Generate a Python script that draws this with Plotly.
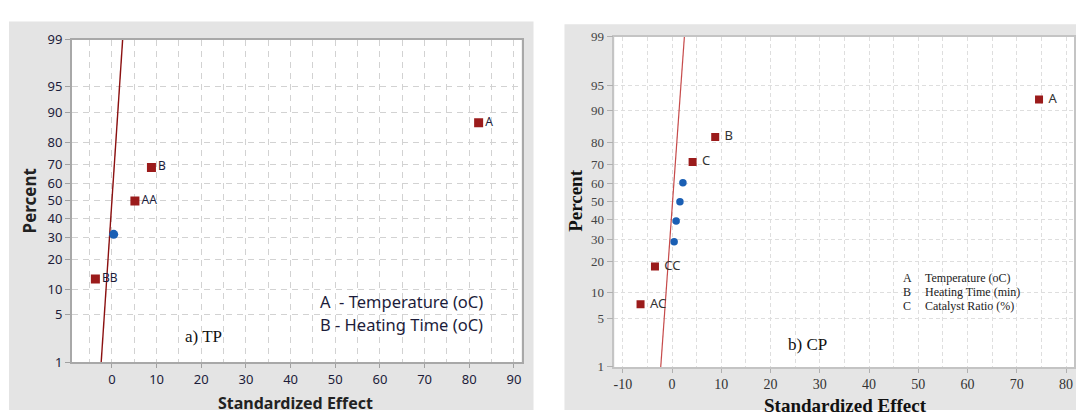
import plotly.graph_objects as go
from statistics import NormalDist

_nd = NormalDist()


def z(p):
    return _nd.inv_cdf(p / 100.0)


# ---------------- data ----------------
percent_ticks = [1, 5, 10, 20, 30, 40, 50, 60, 70, 80, 90, 95, 99]

# a) TP
tp_sig_labels = ["BB", "AA", "B", "A"]
tp_sig_effect = [-3.7, 5.15, 8.85, 82.1]
tp_sig_percent = [12.96, 50.0, 68.52, 87.04]
tp_ns_effect = [0.4]
tp_ns_percent = [31.48]
tp_line_effect = [-2.4, 2.4]
tp_line_percent = [1, 99]
tp_xticks = [0, 10, 20, 30, 40, 50, 60, 70, 80, 90]

# b) CP
cp_sig_labels = ["AC", "CC", "C", "B", "A"]
cp_sig_effect = [-6.4, -3.47, 4.17, 8.76, 74.5]
cp_sig_percent = [7.45, 18.09, 71.28, 81.91, 92.55]
cp_ns_effect = [0.42, 0.83, 1.6, 2.2]
cp_ns_percent = [28.72, 39.36, 50.0, 60.64]
cp_line_effect = [-2.3, 2.5]
cp_line_percent = [1, 99]
cp_xticks = [-10, 0, 10, 20, 30, 40, 50, 60, 70, 80]
cp_xtick_text = ["-10", "0", "10", "20", "30", "40", "50", "60", "70", "80"]

W, H = 1076, 419


def px_x(v):
    return v / W


def px_y(v):
    return 1 - v / H


SANS = "Noto Sans, Open Sans, DejaVu Sans, sans-serif"
SERIF = "Liberation Serif, Times New Roman, serif"
NAVY = "#1c1c3a"
RED = "#9b1b1b"
BLUE = "#1a5fb4"

fig = go.Figure()

# ---- TP panel ----
fig.add_trace(go.Scatter(
    x=tp_line_effect, y=[z(p) for p in tp_line_percent], mode="lines",
    line=dict(color="#8b1010", width=1.4), xaxis="x", yaxis="y",
    hoverinfo="skip", showlegend=False))
fig.add_trace(go.Scatter(
    x=tp_ns_effect, y=[z(p) for p in tp_ns_percent], mode="markers",
    marker=dict(symbol="circle", size=9, color=BLUE), xaxis="x", yaxis="y",
    showlegend=False))
fig.add_trace(go.Scatter(
    x=tp_sig_effect, y=[z(p) for p in tp_sig_percent], mode="markers+text",
    text=tp_sig_labels, textposition="middle right",
    textfont=dict(family=SANS, size=12, color=NAVY),
    marker=dict(symbol="square", size=9, color=RED), xaxis="x", yaxis="y",
    showlegend=False))

# ---- CP panel ----
fig.add_trace(go.Scatter(
    x=cp_line_effect, y=[z(p) for p in cp_line_percent], mode="lines",
    line=dict(color="#c64a4a", width=1.2), xaxis="x2", yaxis="y2",
    hoverinfo="skip", showlegend=False))
fig.add_trace(go.Scatter(
    x=cp_ns_effect, y=[z(p) for p in cp_ns_percent], mode="markers",
    marker=dict(symbol="circle", size=7.5, color=BLUE), xaxis="x2", yaxis="y2",
    showlegend=False))
fig.add_trace(go.Scatter(
    x=cp_sig_effect, y=[z(p) for p in cp_sig_percent], mode="markers+text",
    text=cp_sig_labels, textposition="middle right",
    texttemplate="\u00a0%{text}",
    textfont=dict(family=SANS, size=13, color="#333333"),
    marker=dict(symbol="square", size=8, color=RED), xaxis="x2", yaxis="y2",
    showlegend=False))

yr = [z(1), z(99)]
ytv = [z(p) for p in percent_ticks]
ytt = [str(p) for p in percent_ticks]

left_grid = dict(showgrid=True, gridcolor="#d2d2d2", gridwidth=1.4, griddash="6px,5px")
right_grid = dict(showgrid=True, gridcolor="#dedede", gridwidth=1, griddash="4px,3px")

fig.update_layout(
    width=W, height=H, margin=dict(l=0, r=0, t=0, b=0),
    paper_bgcolor="white", plot_bgcolor="white",
    xaxis=dict(
        domain=[px_x(71), px_x(521)], anchor="y", range=[-8.95, 91.7],
        tickvals=tp_xticks, ticks="outside", ticklen=4, tickcolor="#a0a0a0",
        tickfont=dict(family=SANS, size=13, color=NAVY),
        showline=True, mirror=True, linecolor="#a8a8a8", linewidth=2,
        zeroline=False, **left_grid,
        minor=dict(dtick=5, tick0=0, ticks="", **left_grid)),
    yaxis=dict(
        domain=[px_y(369), px_y(32)], anchor="x", range=yr,
        tickvals=ytv, ticktext=ytt, ticks="outside", ticklen=5, tickcolor="#a0a0a0",
        tickfont=dict(family=SANS, size=13, color=NAVY),
        showline=True, mirror=True, linecolor="#a8a8a8", linewidth=2,
        zeroline=False, **left_grid),
    xaxis2=dict(
        domain=[px_x(614), px_x(1074)], anchor="y2", range=[-11.7, 81.6],
        tickvals=cp_xticks, ticktext=cp_xtick_text, ticks="outside", ticklen=4,
        tickcolor="#b0b0b0",
        tickfont=dict(family=SERIF, size=14, color="#333333"),
        showline=True, mirror=True, linecolor="#c4c4c4", linewidth=1.5,
        zeroline=False, **right_grid,
        minor=dict(dtick=5, tick0=0, ticks="", **right_grid)),
    yaxis2=dict(
        domain=[px_y(374), px_y(29)], anchor="x2", range=yr,
        tickvals=ytv, ticktext=ytt, ticks="outside", ticklen=6, tickcolor="#b0b0b0",
        tickfont=dict(family=SERIF, size=13, color="#444444"),
        showline=True, mirror=True, linecolor="#c4c4c4", linewidth=1.5,
        zeroline=False, **right_grid),
)

# gray panel backgrounds
fig.add_shape(type="rect", xref="paper", yref="paper", layer="below",
              x0=px_x(8), x1=px_x(533), y0=px_y(419), y1=px_y(13),
              fillcolor="#e4e4e4", line=dict(width=0))
fig.add_shape(type="rect", xref="paper", yref="paper", layer="below",
              x0=px_x(564), x1=px_x(1076), y0=px_y(419), y1=px_y(16),
              fillcolor="#e5e5e5", line=dict(width=0))
# white plot areas (drawn below traces, above gray)
fig.add_shape(type="rect", xref="paper", yref="paper", layer="below",
              x0=px_x(71), x1=px_x(521), y0=px_y(369), y1=px_y(32),
              fillcolor="white", line=dict(width=0))
fig.add_shape(type="rect", xref="paper", yref="paper", layer="below",
              x0=px_x(614), x1=px_x(1074), y0=px_y(374), y1=px_y(29),
              fillcolor="white", line=dict(width=0))


def ann(text, x, y, font, angle=0, xanchor="center", align="center"):
    fig.add_annotation(text=text, xref="paper", yref="paper",
                       x=px_x(x), y=px_y(y), xanchor=xanchor, yanchor="middle",
                       showarrow=False, textangle=angle, font=font, align=align)


# TP titles
ann("<b>Percent</b>", 28, 200, dict(family=SANS, size=17, color="#222222"), angle=-90)
ann("<b>Standardized Effect</b>", 295, 412, dict(family=SANS, size=16, color="#222222"))
ann("A  - Temperature (oC)", 317, 306, dict(family=SANS, size=16.5, color=NAVY), xanchor="left")
ann("B - Heating Time (oC)", 317, 330, dict(family=SANS, size=16.5, color=NAVY), xanchor="left")
ann("a) TP", 203, 342, dict(family=SERIF, size=17, color="#111111"))

# CP titles
ann("<b>Percent</b>", 575, 200, dict(family=SERIF, size=19, color="#111111"), angle=-90)
ann("<b>Standardized Effect</b>", 845, 414, dict(family=SERIF, size=19, color="#111111"))
for i, (k, v) in enumerate([("A", "Temperature (oC)"), ("B", "Heating Time (min)"),
                            ("C", "Catalyst Ratio (%)")]):
    yy = [281.5, 295.5, 310.5][i]
    ann(k, 901, yy, dict(family=SERIF, size=12, color="#222222"), xanchor="left")
    ann(v, 923, yy, dict(family=SERIF, size=12, color="#222222"), xanchor="left")
ann("b) CP", 807, 351, dict(family=SERIF, size=17, color="#111111"))

fig.write_html("out.html")
